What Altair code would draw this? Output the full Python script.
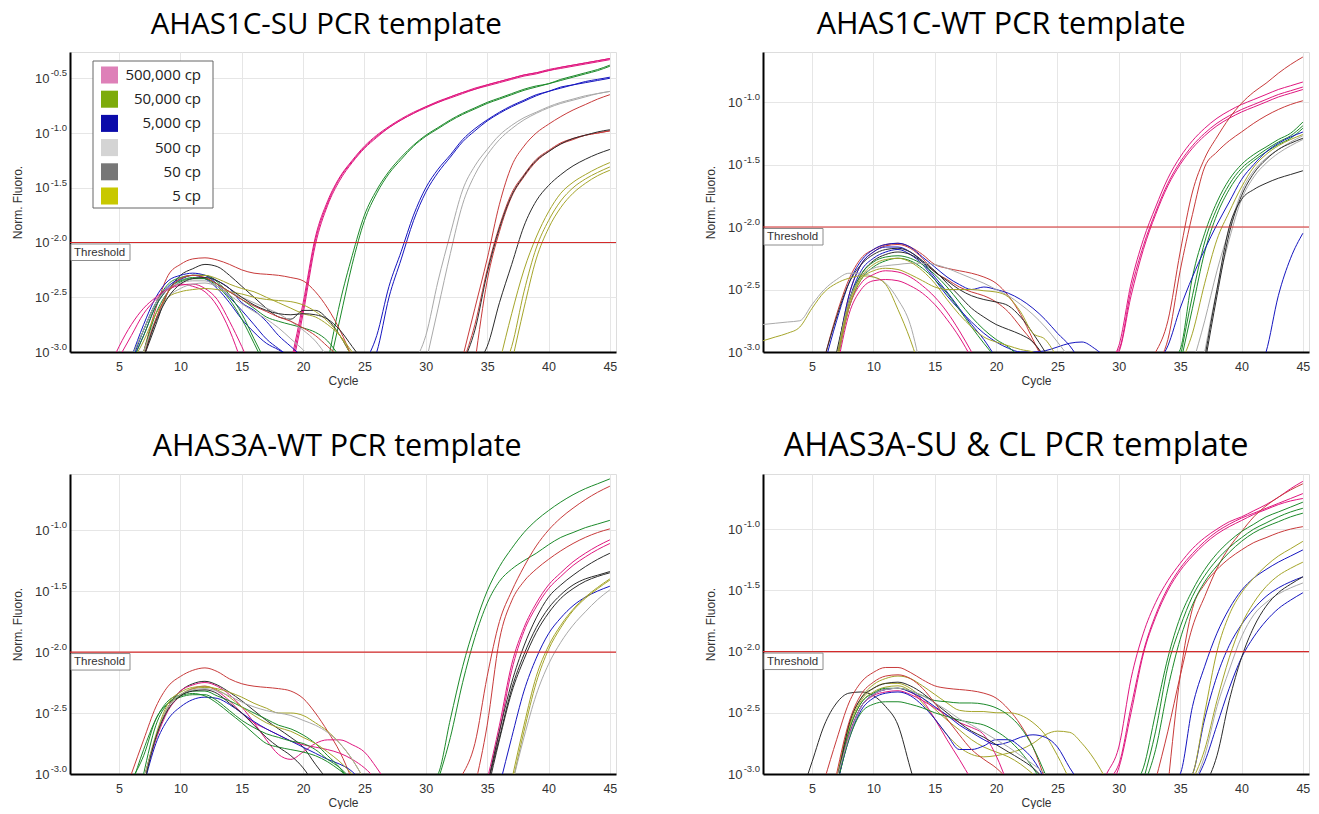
import altair as alt
import pandas as pd

LABEL_FONT = "Liberation Sans"
TITLE_FONT = "Open Sans"

LINE_KEYS = ["pink", "green", "blue", "gray", "black", "olive", "red"]
LINE_COLORS = ["#e0177f", "#1c8a2a", "#1515c0", "#a9a9a9", "#2b2b2b", "#a5a52a", "#c83a3a"]

LEGEND_LABELS = ["500,000 cp", "50,000 cp", "5,000 cp", "500 cp", "50 cp", "5 cp"]
LEGEND_COLORS = ["#de80b8", "#7dab0b", "#0b0baa", "#d4d4d4", "#777777", "#c8c800"]

X_TICKS = [5, 10, 15, 20, 25, 30, 35, 40, 45]
X_DOMAIN = [1, 45.5]
THRESHOLD = -2.0

TITLES = ["AHAS1C-SU PCR template", "AHAS1C-WT PCR template",
          "AHAS3A-WT PCR template", "AHAS3A-SU & CL PCR template"]
TITLE_SIZES = [29.5, 30.5, 30.5, 32.5]
TITLE_DX = [12, -6, 23, 9]
Y_DOMAINS = [[-3, -0.26], [-3, -0.6], [-3, -0.54], [-3, -0.55]]
Y_TICKS_1 = [-3.0, -2.5, -2.0, -1.5, -1.0, -0.5]
Y_TICKS_2 = [-3.0, -2.5, -2.0, -1.5, -1.0]

# (colour group, first cycle, log10 Norm. Fluoro. per cycle)
P1 = [
    ("pink", 19, [-3.1, -2.55, -1.95, -1.62, -1.40, -1.25, -1.12, -1.02, -0.94, -0.87, -0.81, -0.76, -0.71, -0.67, -0.63, -0.59, -0.56, -0.53, -0.50, -0.47, -0.45, -0.43, -0.40, -0.38, -0.36, -0.34, -0.32]),
    ("pink", 19, [-3.2, -2.65, -2.02, -1.66, -1.43, -1.27, -1.14, -1.04, -0.95, -0.88, -0.82, -0.77, -0.72, -0.68, -0.64, -0.60, -0.57, -0.54, -0.51, -0.48, -0.46, -0.43, -0.41, -0.39, -0.37, -0.35, -0.33]),
    ("pink", 19, [-3.15, -2.6, -1.98, -1.64, -1.41, -1.26, -1.13, -1.03, -0.95, -0.88, -0.82, -0.76, -0.72, -0.67, -0.63, -0.60, -0.56, -0.53, -0.50, -0.47, -0.45, -0.42, -0.40, -0.38, -0.36, -0.34, -0.32]),
    ("green", 22, [-3.1, -2.55, -2.12, -1.75, -1.52, -1.35, -1.22, -1.11, -1.02, -0.95, -0.88, -0.82, -0.77, -0.72, -0.68, -0.64, -0.60, -0.57, -0.55, -0.51, -0.48, -0.45, -0.42, -0.38]),
    ("green", 22, [-3.2, -2.7, -2.2, -1.8, -1.55, -1.37, -1.24, -1.12, -1.03, -0.96, -0.89, -0.83, -0.78, -0.73, -0.69, -0.65, -0.61, -0.58, -0.55, -0.52, -0.49, -0.46, -0.43, -0.39]),
    ("blue", 25, [-3.1, -2.85, -2.40, -2.08, -1.75, -1.50, -1.33, -1.20, -1.06, -0.96, -0.88, -0.81, -0.75, -0.70, -0.65, -0.62, -0.58, -0.56, -0.54, -0.52, -0.50]),
    ("blue", 25, [-3.2, -3.0, -2.5, -2.15, -1.8, -1.54, -1.36, -1.22, -1.08, -0.98, -0.89, -0.82, -0.76, -0.71, -0.66, -0.62, -0.59, -0.56, -0.53, -0.51, -0.49]),
    ("gray", 29, [-3.1, -2.85, -2.35, -1.92, -1.52, -1.30, -1.15, -1.02, -0.93, -0.86, -0.81, -0.76, -0.72, -0.69, -0.66, -0.64, -0.62]),
    ("gray", 30, [-3.1, -2.6, -2.1, -1.65, -1.38, -1.2, -1.06, -0.96, -0.88, -0.82, -0.77, -0.73, -0.70, -0.67, -0.64, -0.62]),
    ("red", 33, [-3.05, -2.6, -2.15, -1.65, -1.30, -1.12, -1.0, -0.92, -0.85, -0.79, -0.74, -0.69, -0.65]),
    ("red", 33, [-3.1, -2.75, -2.25, -1.85, -1.55, -1.38, -1.24, -1.16, -1.09, -1.05, -1.02, -1.0, -0.98]),
    ("red", 34, [-3.1, -2.35, -1.9, -1.58, -1.4, -1.26, -1.17, -1.1, -1.06, -1.02, -1.0, -0.98]),
    ("black", 33, [-3.1, -2.8, -2.28, -1.87, -1.57, -1.39, -1.25, -1.17, -1.1, -1.05, -1.02, -0.99, -0.97]),
    ("black", 34, [-3.1, -2.95, -2.55, -2.2, -1.85, -1.62, -1.48, -1.38, -1.30, -1.24, -1.19, -1.15]),
    ("olive", 36, [-3.1, -2.65, -2.25, -1.95, -1.72, -1.55, -1.45, -1.38, -1.32, -1.27]),
    ("olive", 36, [-3.2, -2.95, -2.45, -2.05, -1.80, -1.62, -1.50, -1.42, -1.36, -1.31]),
    ("olive", 37, [-3.1, -2.6, -2.15, -1.87, -1.68, -1.55, -1.46, -1.39, -1.34]),
    ("red", 7, [-3.0, -2.6, -2.3, -2.2, -2.15, -2.14, -2.16, -2.2, -2.25, -2.28, -2.29, -2.30, -2.32, -2.35, -2.45, -2.6, -2.8, -3.05]),
    ("black", 7, [-3.05, -2.75, -2.45, -2.3, -2.24, -2.2, -2.22, -2.3, -2.4, -2.5, -2.6, -2.68, -2.7, -2.62, -2.62, -2.7, -2.85, -3.05]),
    ("blue", 6, [-3.05, -2.75, -2.5, -2.35, -2.3, -2.28, -2.3, -2.38, -2.5, -2.62, -2.75, -2.88, -2.97, -3.05]),
    ("blue", 6, [-3.1, -2.8, -2.55, -2.4, -2.33, -2.3, -2.33, -2.42, -2.55, -2.7, -2.82, -2.92, -2.98, -3.05]),
    ("blue", 6, [-3.1, -2.85, -2.58, -2.42, -2.34, -2.3, -2.3, -2.35, -2.42, -2.55, -2.62, -2.72, -2.85, -2.95, -3.05]),
    ("green", 6, [-3.05, -2.8, -2.55, -2.38, -2.32, -2.3, -2.3, -2.36, -2.48, -2.65, -2.88, -3.1]),
    ("green", 6, [-3.1, -2.85, -2.58, -2.42, -2.35, -2.32, -2.33, -2.4, -2.52, -2.7, -2.92, -3.15]),
    ("green", 7, [-3.0, -2.65, -2.45, -2.36, -2.33, -2.33, -2.38, -2.45, -2.52, -2.6, -2.68, -2.72, -2.75, -2.78, -2.82, -2.9, -3.05]),
    ("pink", 4, [-3.2, -2.95, -2.75, -2.6, -2.5, -2.42, -2.38, -2.4, -2.45, -2.58, -2.8, -3.1]),
    ("pink", 5, [-3.05, -2.85, -2.65, -2.52, -2.43, -2.39, -2.38, -2.42, -2.52, -2.72, -2.95, -3.2]),
    ("olive", 6, [-3.1, -2.9, -2.65, -2.5, -2.45, -2.43, -2.42, -2.43, -2.45, -2.47, -2.5, -2.52, -2.53, -2.54, -2.57, -2.63, -2.72, -2.85, -3.05]),
    ("olive", 7, [-3.0, -2.7, -2.45, -2.33, -2.3, -2.3, -2.33, -2.38, -2.42, -2.45, -2.5, -2.55, -2.6, -2.65, -2.68, -2.75, -2.85, -3.0, -3.15]),
    ("gray", 6, [-3.05, -2.8, -2.55, -2.42, -2.37, -2.35, -2.35, -2.4, -2.48, -2.56, -2.63, -2.7, -2.78, -2.88, -2.98, -3.1]),
    ("gray", 7, [-3.0, -2.7, -2.5, -2.42, -2.38, -2.37, -2.4, -2.45, -2.5, -2.55, -2.6, -2.65, -2.72, -2.8, -2.9, -3.05]),
    ("red", 7, [-3.05, -2.7, -2.45, -2.33, -2.3, -2.32, -2.38, -2.45, -2.52, -2.58, -2.63, -2.68, -2.72, -2.78, -2.85, -2.95, -3.05]),
    ("black", 7, [-3.05, -2.72, -2.5, -2.38, -2.33, -2.32, -2.35, -2.42, -2.5, -2.57, -2.62, -2.65, -2.66, -2.65, -2.66, -2.7, -2.8, -2.95, -3.1]),
]

P2 = [
    ("pink", 29, [-3.05, -2.98, -2.5, -2.15, -1.88, -1.65, -1.48, -1.35, -1.25, -1.17, -1.11, -1.06, -1.02, -0.98, -0.94, -0.91, -0.88]),
    ("pink", 29, [-3.1, -2.95, -2.45, -2.1, -1.84, -1.61, -1.44, -1.31, -1.21, -1.13, -1.07, -1.02, -0.98, -0.94, -0.9, -0.87, -0.84]),
    ("pink", 29, [-3.1, -3.0, -2.55, -2.18, -1.9, -1.67, -1.5, -1.37, -1.27, -1.19, -1.13, -1.08, -1.04, -1.0, -0.96, -0.93, -0.9]),
    ("red", 33, [-3.0, -2.75, -2.2, -1.72, -1.45, -1.28, -1.13, -1.01, -0.92, -0.85, -0.77, -0.70, -0.64]),
    ("red", 33, [-3.1, -2.9, -2.35, -1.9, -1.52, -1.40, -1.31, -1.24, -1.17, -1.11, -1.06, -1.02, -0.99]),
    ("green", 34, [-3.1, -2.98, -2.4, -2.05, -1.8, -1.62, -1.5, -1.42, -1.36, -1.3, -1.25, -1.16]),
    ("green", 35, [-3.05, -2.55, -2.12, -1.85, -1.66, -1.53, -1.45, -1.38, -1.32, -1.27, -1.19]),
    ("green", 35, [-3.1, -2.65, -2.2, -1.9, -1.7, -1.56, -1.47, -1.4, -1.34, -1.29, -1.21]),
    ("blue", 33, [-3.1, -2.95, -2.65, -2.4, -2.18, -1.98, -1.8, -1.62, -1.5, -1.4, -1.33, -1.28, -1.24]),
    ("blue", 41, [-3.2, -3.0, -2.55, -2.25, -2.05]),
    ("olive", 35, [-3.1, -2.85, -2.45, -2.1, -1.88, -1.68, -1.52, -1.42, -1.35, -1.3, -1.26]),
    ("gray", 36, [-3.1, -2.75, -2.35, -2.02, -1.72, -1.55, -1.45, -1.38, -1.32, -1.27]),
    ("gray", 37, [-3.0, -2.5, -2.1, -1.78, -1.6, -1.49, -1.41, -1.35, -1.3]),
    ("black", 37, [-3.1, -2.55, -2.05, -1.75, -1.57, -1.46, -1.38, -1.33, -1.29]),
    ("black", 37, [-3.05, -2.5, -2.0, -1.78, -1.7, -1.65, -1.61, -1.58, -1.55]),
    ("red", 6, [-3.05, -2.7, -2.42, -2.25, -2.18, -2.14, -2.13, -2.16, -2.22, -2.3, -2.33, -2.35, -2.37, -2.4, -2.45, -2.55, -2.7, -2.9, -3.1]),
    ("red", 7, [-3.05, -2.55, -2.3, -2.2, -2.15, -2.14, -2.17, -2.25, -2.36, -2.42, -2.48, -2.52, -2.55, -2.6, -2.68, -2.8, -2.92, -3.05]),
    ("blue", 6, [-3.1, -2.75, -2.45, -2.27, -2.18, -2.14, -2.13, -2.16, -2.24, -2.32, -2.4, -2.46, -2.5, -2.48, -2.5, -2.53, -2.58, -2.65, -2.74, -2.85, -2.95, -3.1]),
    ("blue", 7, [-3.05, -2.55, -2.3, -2.2, -2.16, -2.16, -2.2, -2.28, -2.4, -2.52, -2.65, -2.78, -2.9, -3.05]),
    ("blue", 7, [-3.1, -2.6, -2.35, -2.25, -2.2, -2.18, -2.22, -2.3, -2.42, -2.55, -2.66, -2.76, -2.85, -2.92, -2.97, -3.0, -3.0, -2.99, -2.96, -2.93, -2.92, -2.97, -3.05]),
    ("black", 6, [-3.05, -2.72, -2.45, -2.3, -2.22, -2.18, -2.17, -2.2, -2.27, -2.35, -2.45, -2.55, -2.65, -2.72, -2.78, -2.82, -2.86, -2.92, -3.05]),
    ("black", 7, [-3.0, -2.6, -2.38, -2.27, -2.22, -2.2, -2.22, -2.28, -2.36, -2.43, -2.5, -2.55, -2.58, -2.6, -2.63, -2.72, -2.85, -3.0]),
    ("green", 7, [-3.05, -2.6, -2.38, -2.28, -2.24, -2.23, -2.25, -2.3, -2.38, -2.48, -2.6, -2.72, -2.82, -2.9, -2.96, -3.05]),
    ("green", 7, [-3.1, -2.65, -2.42, -2.32, -2.27, -2.25, -2.27, -2.33, -2.42, -2.53, -2.66, -2.8, -2.93, -3.05]),
    ("gray", 1, [-2.78, -2.77, -2.76, -2.75, -2.62, -2.5, -2.42, -2.37, -2.37, -2.4, -2.45, -2.58, -2.78, -3.2]),
    ("olive", 1, [-2.91, -2.88, -2.85, -2.8, -2.65, -2.52, -2.45, -2.41, -2.39, -2.4, -2.46, -2.66, -2.9, -3.2]),
    ("gray", 7, [-3.05, -2.6, -2.4, -2.33, -2.31, -2.3, -2.29, -2.29, -2.3, -2.33, -2.37, -2.41, -2.45, -2.5, -2.55, -2.62, -2.7, -2.8, -2.92, -3.05]),
    ("pink", 7, [-3.1, -2.65, -2.45, -2.38, -2.35, -2.36, -2.4, -2.47, -2.56, -2.68, -2.83, -3.0]),
    ("pink", 7, [-3.15, -2.7, -2.5, -2.43, -2.42, -2.43, -2.47, -2.53, -2.62, -2.74, -2.88, -3.05]),
    ("olive", 7, [-3.1, -2.65, -2.42, -2.35, -2.33, -2.34, -2.38, -2.43, -2.48, -2.5, -2.5, -2.5, -2.51, -2.52, -2.56, -2.68, -2.85, -2.9, -3.05]),
    ("olive", 7, [-3.05, -2.62, -2.4, -2.3, -2.26, -2.25, -2.28, -2.35, -2.45, -2.58, -2.7, -2.8, -2.88, -2.92, -2.95, -2.98, -3.0, -3.05]),
]

P3 = [
    ("green", 30, [-3.1, -3.0, -2.55, -2.12, -1.78, -1.5, -1.3, -1.15, -1.02, -0.92, -0.84, -0.77, -0.71, -0.66, -0.62, -0.58]),
    ("green", 31, [-3.05, -2.7, -2.25, -1.88, -1.6, -1.42, -1.32, -1.25, -1.19, -1.12, -1.06, -1.02, -0.98, -0.95, -0.92]),
    ("red", 33, [-3.0, -2.75, -2.2, -1.75, -1.5, -1.3, -1.13, -1.0, -0.9, -0.82, -0.75, -0.69, -0.64]),
    ("red", 34, [-3.1, -2.6, -1.9, -1.58, -1.42, -1.32, -1.24, -1.17, -1.11, -1.06, -1.02, -0.99]),
    ("pink", 35, [-3.05, -2.6, -2.1, -1.8, -1.6, -1.45, -1.35, -1.26, -1.19, -1.13, -1.08]),
    ("pink", 35, [-3.1, -2.65, -2.15, -1.83, -1.63, -1.48, -1.38, -1.29, -1.22, -1.16, -1.11]),
    ("black", 35, [-3.1, -2.65, -2.25, -1.95, -1.72, -1.55, -1.45, -1.37, -1.3, -1.24, -1.19]),
    ("black", 35, [-3.1, -2.7, -2.3, -2.02, -1.8, -1.64, -1.53, -1.45, -1.4, -1.37, -1.34]),
    ("black", 35, [-3.15, -2.72, -2.33, -2.06, -1.84, -1.68, -1.56, -1.48, -1.42, -1.38, -1.35]),
    ("blue", 36, [-3.1, -2.7, -2.32, -2.05, -1.85, -1.72, -1.62, -1.55, -1.5, -1.46]),
    ("olive", 37, [-3.05, -2.6, -2.2, -1.95, -1.78, -1.65, -1.55, -1.47, -1.4]),
    ("olive", 37, [-3.1, -2.65, -2.25, -1.98, -1.8, -1.66, -1.56, -1.48, -1.41]),
    ("gray", 37, [-3.1, -2.7, -2.35, -2.1, -1.92, -1.78, -1.67, -1.57, -1.49]),
    ("red", 6, [-3.0, -2.72, -2.45, -2.28, -2.2, -2.15, -2.13, -2.16, -2.22, -2.26, -2.28, -2.29, -2.3, -2.32, -2.38, -2.5, -2.65, -2.82, -3.05]),
    ("black", 7, [-3.05, -2.7, -2.45, -2.32, -2.26, -2.24, -2.27, -2.33, -2.4, -2.48, -2.56, -2.63, -2.7, -2.78, -2.92, -3.05]),
    ("pink", 7, [-3.05, -2.7, -2.45, -2.32, -2.27, -2.25, -2.28, -2.35, -2.45, -2.58, -2.72, -2.84, -2.88, -2.82, -2.75, -2.72, -2.72, -2.76, -2.82, -2.95, -3.1]),
    ("pink", 7, [-3.05, -2.72, -2.48, -2.36, -2.3, -2.28, -2.32, -2.4, -2.5, -2.58, -2.63, -2.68, -2.73, -2.76, -2.78, -2.8, -2.83, -2.88, -2.95, -3.05]),
    ("blue", 7, [-3.1, -2.75, -2.55, -2.45, -2.39, -2.37, -2.38, -2.43, -2.5, -2.57, -2.63, -2.68, -2.73, -2.78, -2.83, -2.88, -2.92, -2.98, -3.1]),
    ("green", 6, [-3.05, -2.85, -2.55, -2.42, -2.37, -2.35, -2.35, -2.4, -2.48, -2.56, -2.62, -2.67, -2.7, -2.73, -2.75, -2.8, -2.88, -2.95, -3.05]),
    ("green", 7, [-3.0, -2.6, -2.42, -2.36, -2.34, -2.36, -2.42, -2.5, -2.58, -2.67, -2.75, -2.78, -2.8, -2.82, -2.85, -2.9, -2.97, -3.05]),
    ("green", 6, [-3.1, -2.8, -2.55, -2.4, -2.35, -2.32, -2.32, -2.36, -2.4, -2.45, -2.5, -2.55, -2.6, -2.63, -2.68, -2.75, -2.85, -2.95, -3.1]),
    ("olive", 7, [-3.05, -2.7, -2.45, -2.35, -2.3, -2.29, -2.3, -2.33, -2.37, -2.42, -2.46, -2.5, -2.5, -2.52, -2.58, -2.65, -2.75, -2.88, -3.05]),
    ("olive", 7, [-3.05, -2.68, -2.42, -2.33, -2.29, -2.28, -2.31, -2.37, -2.45, -2.52, -2.58, -2.62, -2.65, -2.7, -2.75, -2.82, -2.9, -3.0]),
    ("gray", 7, [-3.05, -2.7, -2.45, -2.35, -2.31, -2.3, -2.32, -2.36, -2.41, -2.45, -2.48, -2.5, -2.52, -2.56, -2.6, -2.66, -2.75, -2.88, -3.05]),
    ("black", 7, [-3.1, -2.7, -2.47, -2.36, -2.32, -2.31, -2.34, -2.42, -2.5, -2.6, -2.7, -2.78, -2.85, -2.95, -3.1]),
]

P4 = [
    ("pink", 28, [-3.2, -3.0, -2.78, -2.22, -1.85, -1.6, -1.42, -1.28, -1.16, -1.07, -1.0, -0.94, -0.9, -0.85, -0.8, -0.74, -0.67, -0.61]),
    ("pink", 29, [-3.05, -2.92, -2.45, -2.0, -1.7, -1.48, -1.32, -1.2, -1.1, -1.02, -0.96, -0.91, -0.87, -0.83, -0.79, -0.75, -0.71]),
    ("pink", 29, [-3.1, -2.95, -2.5, -2.02, -1.72, -1.5, -1.34, -1.22, -1.12, -1.04, -0.98, -0.93, -0.88, -0.84, -0.8, -0.77, -0.75]),
    ("red", 33, [-3.05, -2.65, -2.2, -1.8, -1.55, -1.32, -1.15, -1.02, -0.9, -0.81, -0.74, -0.68, -0.63]),
    ("red", 34, [-3.1, -2.2, -1.65, -1.45, -1.33, -1.24, -1.17, -1.11, -1.07, -1.03, -1.0, -0.98]),
    ("green", 31, [-3.1, -2.95, -2.5, -2.05, -1.72, -1.5, -1.33, -1.2, -1.1, -1.02, -0.96, -0.9, -0.86, -0.82, -0.78]),
    ("green", 32, [-3.05, -2.65, -2.12, -1.8, -1.55, -1.38, -1.25, -1.15, -1.07, -1.0, -0.95, -0.9, -0.86, -0.83]),
    ("green", 32, [-3.1, -2.8, -2.3, -1.9, -1.62, -1.43, -1.3, -1.19, -1.1, -1.03, -0.98, -0.94, -0.9, -0.87]),
    ("blue", 34, [-3.1, -3.0, -2.45, -2.12, -1.85, -1.65, -1.5, -1.4, -1.33, -1.27, -1.22, -1.17]),
    ("blue", 35, [-3.1, -3.0, -2.55, -2.2, -1.95, -1.78, -1.65, -1.55, -1.48, -1.43, -1.39]),
    ("blue", 36, [-3.1, -2.9, -2.6, -2.3, -2.05, -1.88, -1.75, -1.65, -1.58, -1.52]),
    ("olive", 35, [-3.1, -3.0, -2.5, -2.0, -1.7, -1.52, -1.4, -1.3, -1.22, -1.16, -1.1]),
    ("olive", 36, [-3.05, -2.8, -2.4, -2.05, -1.78, -1.6, -1.47, -1.38, -1.32, -1.27]),
    ("gray", 36, [-3.1, -2.85, -2.45, -2.15, -1.88, -1.7, -1.6, -1.53, -1.48, -1.44]),
    ("black", 37, [-3.1, -2.85, -2.4, -2.05, -1.8, -1.63, -1.52, -1.45, -1.39]),
    ("black", 4, [-3.2, -2.9, -2.6, -2.42, -2.34, -2.33, -2.36, -2.45, -2.6, -2.95, -3.3]),
    ("red", 6, [-3.05, -2.72, -2.42, -2.25, -2.17, -2.13, -2.13, -2.17, -2.23, -2.28, -2.3, -2.31, -2.32, -2.34, -2.38, -2.47, -2.6, -2.78, -3.05]),
    ("olive", 7, [-3.05, -2.6, -2.38, -2.27, -2.22, -2.2, -2.22, -2.28, -2.35, -2.42, -2.48, -2.49, -2.49, -2.5, -2.5, -2.52, -2.58, -2.68, -2.85, -3.05]),
    ("olive", 7, [-3.1, -2.65, -2.42, -2.33, -2.29, -2.28, -2.32, -2.42, -2.55, -2.68, -2.78, -2.84, -2.86, -2.85, -2.83, -2.8, -2.75, -2.68, -2.65, -2.66, -2.75, -2.88, -3.05]),
    ("olive", 7, [-3.05, -2.62, -2.4, -2.3, -2.26, -2.26, -2.3, -2.38, -2.47, -2.56, -2.64, -2.72, -2.78, -2.82, -2.86, -2.92, -3.0]),
    ("pink", 7, [-3.1, -2.7, -2.45, -2.35, -2.31, -2.3, -2.33, -2.4, -2.55, -2.72, -2.88, -3.05]),
    ("pink", 7, [-3.05, -2.68, -2.45, -2.36, -2.33, -2.32, -2.35, -2.4, -2.46, -2.52, -2.58, -2.62, -2.68, -2.85, -3.1]),
    ("blue", 7, [-3.1, -2.72, -2.48, -2.38, -2.34, -2.33, -2.36, -2.44, -2.55, -2.68, -2.8, -2.8, -2.77, -2.72, -2.72, -2.78, -2.88, -3.05]),
    ("blue", 7, [-3.1, -2.7, -2.45, -2.35, -2.31, -2.3, -2.33, -2.38, -2.45, -2.52, -2.6, -2.66, -2.72, -2.76, -2.74, -2.7, -2.68, -2.7, -2.78, -2.95, -3.1]),
    ("green", 7, [-3.05, -2.65, -2.42, -2.34, -2.3, -2.3, -2.32, -2.36, -2.4, -2.41, -2.42, -2.42, -2.43, -2.46, -2.52, -2.62, -2.78, -3.0]),
    ("green", 7, [-3.1, -2.72, -2.5, -2.43, -2.41, -2.41, -2.43, -2.46, -2.5, -2.53, -2.56, -2.58, -2.6, -2.65, -2.72, -2.82, -2.95, -3.1]),
    ("black", 7, [-3.1, -2.6, -2.38, -2.3, -2.26, -2.25, -2.28, -2.34, -2.42, -2.5, -2.58, -2.65, -2.7, -2.76, -2.82, -2.88, -2.95, -3.05]),
    ("gray", 7, [-3.05, -2.7, -2.45, -2.35, -2.31, -2.3, -2.32, -2.36, -2.42, -2.48, -2.55, -2.6, -2.66, -2.72, -2.78, -2.85, -2.92, -3.0, -3.1]),
    ("red", 7, [-3.0, -2.58, -2.35, -2.25, -2.2, -2.19, -2.22, -2.3, -2.42, -2.55, -2.68, -2.8, -2.88, -2.95, -3.05]),
]

W, H = 546, 300
TXT = "#333333"
THR_COLOR = "#d42a2a"


def curves_df(curves):
    rows = []
    for i, (grp, start, vals) in enumerate(curves):
        for k, v in enumerate(vals):
            rows.append({"id": i, "grp": grp, "cycle": start + k, "v": v})
    return pd.DataFrame(rows)


def panel(idx, curves, ydom, yticks, legend=False):
    ppd = H / (ydom[1] - ydom[0])
    xs = alt.Scale(domain=X_DOMAIN, nice=False, zero=False)
    ys = alt.Scale(domain=ydom, nice=False, zero=False)
    xaxis = alt.Axis(values=X_TICKS, title="Cycle", grid=True, gridColor="#e6e6e6",
                     ticks=False, domainColor="black", domainWidth=2,
                     labelFontSize=12.5, labelFont=LABEL_FONT, labelColor=TXT, labelPadding=8,
                     labelFlush=False, titleFontSize=12, titleFont=LABEL_FONT,
                     titleFontWeight="normal", titleColor=TXT, titlePadding=3)
    yaxis = alt.Axis(values=yticks, labelExpr="'10'", title="Norm. Fluoro.", grid=True,
                     gridColor="#e6e6e6", ticks=False, domainColor="black", domainWidth=2,
                     labelFontSize=13, labelFont=LABEL_FONT, labelColor=TXT, labelPadding=21,
                     labelFlush=False, titleFontSize=12, titleFont=LABEL_FONT,
                     titleFontWeight="normal", titleColor=TXT, titlePadding=10)
    lines = alt.Chart(curves_df(curves)).mark_line(
        clip=True, strokeWidth=1, interpolate="monotone"
    ).encode(
        x=alt.X("cycle:Q", scale=xs, axis=xaxis),
        y=alt.Y("v:Q", scale=ys, axis=yaxis),
        color=alt.Color("grp:N", scale=alt.Scale(domain=LINE_KEYS, range=LINE_COLORS), legend=None),
        detail="id:N",
    )
    exp_df = pd.DataFrame({"v": yticks, "t": [f"{t:.1f}" for t in yticks]})
    exps = alt.Chart(exp_df).mark_text(
        align="right", baseline="middle", dy=-5, fontSize=9.5, font=LABEL_FONT, color=TXT
    ).encode(x=alt.value(-3), y=alt.Y("v:Q"), text="t:N")
    thr = alt.Chart(pd.DataFrame({"v": [THRESHOLD]})).mark_rule(
        color=THR_COLOR, stroke=THR_COLOR, strokeWidth=1.2, opacity=1
    ).encode(y="v:Q", x=alt.value(0), x2=alt.value(W))
    box = alt.Chart(pd.DataFrame({"v": [THRESHOLD - 1.5 / ppd], "v2": [THRESHOLD - 18 / ppd]})).mark_rect(
        fill="white", stroke="#8c8c8c", strokeWidth=1
    ).encode(x=alt.value(1), x2=alt.value(60), y="v:Q", y2="v2")
    lab = alt.Chart(pd.DataFrame({"v": [THRESHOLD - 10 / ppd]})).mark_text(
        align="left", baseline="middle", fontSize=11.5, font=LABEL_FONT, color=TXT
    ).encode(x=alt.value(4), y="v:Q", text=alt.value("Threshold"))
    main = alt.layer(lines, thr, box, lab, exps)
    if legend:
        ldf = pd.DataFrame({"row": list(range(len(LEGEND_LABELS))), "label": LEGEND_LABELS,
                            "col": LEGEND_COLORS})
        lbox = alt.Chart(pd.DataFrame({"a": [0]})).mark_rect(
            fill="white", stroke="#666666", strokeWidth=1
        ).encode(x=alt.value(23), x2=alt.value(143), y=alt.value(9), y2=alt.value(156))
        ly = alt.Y("row:Q", scale=alt.Scale(domain=[0, 5], range=[23, 144]), axis=None)
        sq = alt.Chart(ldf).mark_square(size=290, opacity=1).encode(
            x=alt.value(39.5), y=ly, color=alt.Color("col:N", scale=None, legend=None))
        lt = alt.Chart(ldf).mark_text(align="right", baseline="middle", fontSize=15,
                                      font=TITLE_FONT, color="#222").encode(
            x=alt.value(131), y=ly, text="label:N")
        leg = alt.layer(lbox, sq, lt)
        main = alt.layer(main, leg).resolve_scale(y="independent", color="independent")
    return main.properties(
        width=W, height=H,
        title=alt.TitleParams(TITLES[idx], fontSize=TITLE_SIZES[idx], font=TITLE_FONT,
                              fontWeight="normal", anchor="middle", frame="bounds",
                              offset=12, dx=TITLE_DX[idx], color="black"),
    )


p1 = panel(0, P1, Y_DOMAINS[0], Y_TICKS_1, legend=True)
p2 = panel(1, P2, Y_DOMAINS[1], Y_TICKS_2)
p3 = panel(2, P3, Y_DOMAINS[2], Y_TICKS_2)
p4 = panel(3, P4, Y_DOMAINS[3], Y_TICKS_2)

chart = alt.vconcat(
    alt.hconcat(p1, p2, spacing=86),
    alt.hconcat(p3, p4, spacing=86),
    spacing=42,
).properties(
    padding={"left": 11, "top": 9, "right": 0, "bottom": 0}
).configure_view(stroke="#555555", strokeWidth=1).configure(background="white")

chart.save("out.html", embed_options={"renderer": "svg", "actions": False})
